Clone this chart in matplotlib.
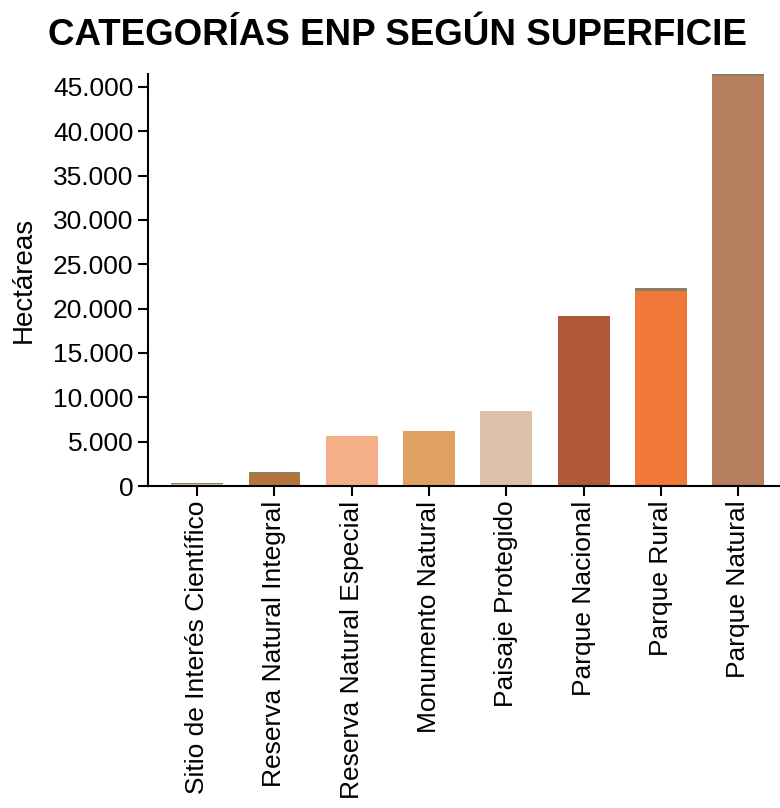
import matplotlib
matplotlib.use("Agg")
import matplotlib.pyplot as plt
from matplotlib.ticker import FuncFormatter

categories = ["Sitio de Interés Científico", "Reserva Natural Integral",
              "Reserva Natural Especial", "Monumento Natural",
              "Paisaje Protegido", "Parque Nacional", "Parque Rural",
              "Parque Natural"]
main_values = [250, 1400, 5640, 6200, 8460, 19170, 22000, 46250]
top_values = [120, 200, 0, 0, 0, 0, 330, 200]
colors = ["#d9c3a0", "#b3753c", "#f3af88", "#dfa062", "#dbc0aa",
          "#b15a3a", "#f07838", "#b57f5e"]
top_color = "#8a7f62"
yticks = list(range(0, 45001, 5000))

plt.rcParams["font.family"] = ["Liberation Sans", "DejaVu Sans"]

fig = plt.figure(figsize=(7.8, 8.08), dpi=100)
ax = fig.add_axes([0.19, 0.3985, 0.81, 0.5099])

x = list(range(len(categories)))
ax.bar(x, main_values, width=0.67, color=colors, zorder=2)
ax.bar(x, top_values, width=0.67, bottom=main_values, color=top_color, zorder=2)

totals = [a + b for a, b in zip(main_values, top_values)]
ax.set_xlim(-0.633, 7.54)
ax.set_ylim(0, max(totals))
ax.set_yticks(yticks)
ax.yaxis.set_major_formatter(FuncFormatter(lambda v, p: f"{int(v):,}".replace(",", ".")))
ax.set_xticks(x)
ax.set_xticklabels(categories, rotation=90, fontsize=19)
ax.tick_params(axis="y", labelsize=19, length=7.5, width=1.5, direction="out", pad=3)
ax.tick_params(axis="x", length=7.5, width=1.5, direction="out", pad=3)

for s in ["top", "right"]:
    ax.spines[s].set_visible(False)
for s in ["left", "bottom"]:
    ax.spines[s].set_linewidth(1.5)

ax.set_ylabel("Hectáreas", fontsize=20, labelpad=12)
fig.text(0.509, 0.956, "CATEGORÍAS ENP SEGÚN SUPERFICIE", ha="center", va="center",
         fontsize=26.5, fontweight="bold")

fig.savefig("out.png", dpi=100)
